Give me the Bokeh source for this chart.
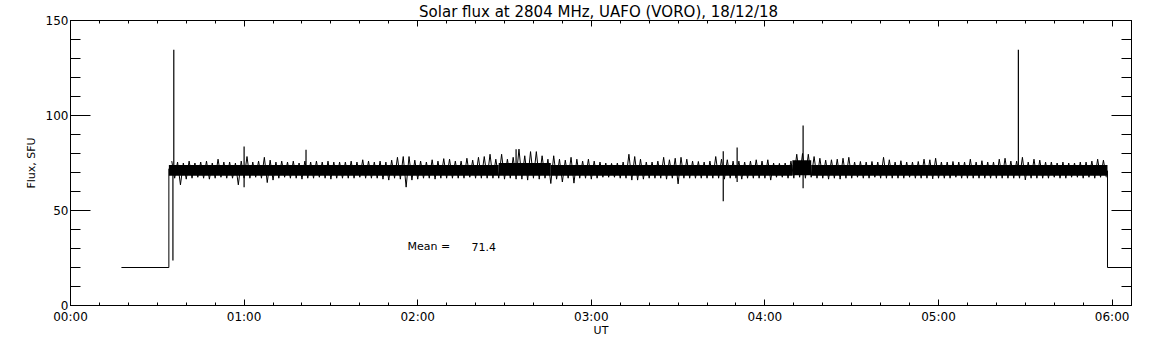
from bokeh.plotting import figure
from bokeh.models import Range1d, FixedTicker, LinearAxis, Label
from bokeh.embed import file_html
from bokeh.resources import INLINE

TITLE = "Solar flux at 2804 MHz, UAFO (VORO),  18/12/18"
X_LABEL = "UT"
Y_LABEL = "Flux, SFU"

# time axis in minutes after 00:00 UT
X_TICKS = [0, 60, 120, 180, 240, 300, 360]
X_TICK_LABELS = ["00:00", "01:00", "02:00", "03:00", "04:00", "05:00", "06:00"]
X_MINOR = list(range(0, 370, 10))
Y_TICKS = [0, 50, 100, 150]
Y_MINOR = list(range(0, 160, 10))

# quiet (off-sun) level before and after the observation
lead_t = [17.6, 34.0, 34.0]
lead_v = [20.0, 20.0, 72.0]
tail_t = [358.4, 358.4, 366.7]
tail_v = [71.0, 20.0, 20.0]

# flux record: local maxima (at odd minutes) and local minima (at even minutes), SFU
peak_t = list(range(35, 358, 2))
peak_v = [
    76.0, 75.5, 75.0, 76.0, 75.0, 75.5, 76.0, 75.0, 77.0, 75.5,
    75.5, 75.0, 76.0, 78.4, 75.5, 76.0, 78.0, 76.5, 75.5, 76.0,
    75.5, 76.0, 75.0, 76.0, 75.5, 76.0, 75.5, 76.0, 75.5, 75.5,
    75.5, 76.0, 75.5, 76.7, 76.0, 75.5, 76.0, 75.5, 76.5, 78.0,
    78.4, 78.4, 76.5, 76.0, 75.5, 76.7, 76.0, 77.3, 77.0, 76.0,
    76.0, 77.5, 76.5, 78.0, 78.4, 79.6, 77.0, 79.6, 77.0, 78.0,
    82.3, 78.8, 81.0, 81.0, 78.8, 77.0, 78.8, 77.0, 76.5, 78.0,
    77.0, 76.0, 77.0, 76.0, 75.5, 75.0, 74.8, 75.0, 75.5, 79.6,
    78.4, 77.0, 75.5, 75.5, 76.0, 78.0, 76.7, 77.5, 78.0, 77.0,
    76.0, 75.8, 75.5, 76.0, 78.4, 77.0, 76.7, 76.0, 76.0, 75.5,
    76.0, 76.7, 76.0, 76.7, 75.0, 74.8, 75.0, 76.0, 79.6, 80.0,
    79.6, 78.4, 77.5, 76.5, 76.7, 77.0, 77.5, 78.0, 75.5, 75.8,
    75.5, 75.8, 75.5, 78.0, 76.7, 75.5, 76.2, 75.5, 75.5, 75.8,
    77.0, 76.7, 77.5, 75.5, 75.5, 75.8, 75.5, 75.5, 77.0, 75.5,
    76.2, 75.5, 75.5, 77.0, 77.5, 76.0, 76.0, 78.0, 75.5, 77.0,
    76.5, 75.5, 75.5, 75.0, 75.5, 75.0, 75.0, 75.5, 75.5, 76.0,
    77.0, 76.5,
]
trough_t = list(range(36, 359, 2))
trough_v = [
    67.0, 63.5, 66.5, 67.0, 67.5, 67.0, 66.5, 67.0, 67.5, 67.0,
    67.0, 63.5, 67.0, 67.0, 67.5, 67.0, 64.7, 66.0, 67.0, 67.5,
    67.0, 67.0, 66.5, 67.0, 67.0, 67.5, 67.0, 66.5, 67.0, 67.0,
    67.0, 67.0, 67.5, 67.0, 67.0, 67.0, 66.5, 66.0, 67.0, 66.5,
    62.3, 66.0, 66.5, 67.0, 67.0, 66.5, 67.0, 67.0, 67.0, 67.0,
    67.0, 67.5, 67.0, 67.0, 67.0, 67.0, 67.0, 66.5, 67.0, 66.5,
    66.5, 66.0, 67.0, 66.5, 67.0, 64.2, 66.5, 65.0, 67.0, 64.4,
    67.0, 67.0, 66.5, 67.0, 67.5, 67.5, 67.5, 67.0, 67.0, 66.0,
    66.0, 66.5, 67.0, 67.0, 67.0, 66.5, 67.0, 64.0, 67.0, 67.0,
    67.0, 67.0, 67.0, 67.0, 67.0, 66.5, 67.0, 67.0, 66.5, 67.0,
    67.0, 67.0, 67.0, 66.0, 67.5, 67.5, 67.0, 67.0, 67.5, 67.0,
    67.5, 67.0, 67.0, 66.5, 67.0, 66.5, 67.0, 67.0, 67.5, 67.0,
    67.0, 67.5, 67.0, 67.0, 67.0, 67.0, 67.0, 67.5, 67.0, 67.0,
    67.0, 66.7, 67.0, 67.0, 67.0, 67.5, 67.0, 67.0, 67.0, 67.0,
    67.0, 67.0, 67.0, 67.0, 67.0, 67.0, 67.0, 66.1, 67.0, 67.0,
    67.0, 67.0, 67.5, 67.0, 67.0, 67.5, 67.5, 67.0, 67.5, 67.0,
    67.5, 67.5,
]

# dense core of the record
core_t0 = [34.0, 148.0, 166.0, 249.5, 256.0]
core_t1 = [148.0, 166.0, 249.5, 256.0, 358.4]
core_lo = [68.3, 68.3, 68.3, 68.5, 68.3]
core_hi = [74.0, 75.0, 74.0, 76.5, 74.0]

# isolated spikes
spike_t = [35.4, 35.7, 60.0, 81.4, 154.0, 225.6, 230.4, 253.2, 327.6]
spike_lo = [23.7, 71.0, 62.3, 70.0, 70.0, 54.9, 65.0, 61.7, 70.0]
spike_hi = [72.0, 134.6, 83.7, 82.0, 82.3, 81.2, 83.2, 94.7, 134.6]

MEAN = 71.4

FONT = "DejaVu Sans"

p = figure(
    frame_width=1061, frame_height=285,
    min_border_left=70, min_border_right=14, min_border_top=19, min_border_bottom=36,
    x_range=Range1d(0, 366.7), y_range=Range1d(0, 150),
    output_backend="svg", toolbar_location=None,
    title=TITLE, x_axis_label=X_LABEL, y_axis_label=Y_LABEL,
)
p.background_fill_color = "white"
p.border_fill_color = "white"
p.outline_line_color = "black"
p.grid.visible = False

p.title.align = "center"
p.title.text_font = FONT
p.title.text_font_size = "15px"
p.title.text_font_style = "normal"
p.title.text_color = "black"
p.title.standoff = 0
p.title.offset = 0

def style_x(ax, labels=True):
    ax.ticker = FixedTicker(ticks=X_TICKS, minor_ticks=X_MINOR)
    ax.major_tick_in = 6
    ax.major_tick_out = 0
    ax.minor_tick_in = 3
    ax.minor_tick_out = 0
    ax.axis_line_color = "black"
    ax.major_tick_line_color = "black"
    ax.minor_tick_line_color = "black"
    if labels:
        ax.major_label_overrides = {t: s for t, s in zip(X_TICKS, X_TICK_LABELS)}
        ax.major_label_text_font = FONT
        ax.major_label_text_font_size = "12px"
        ax.major_label_text_color = "black"
        ax.major_label_standoff = 4
        ax.axis_label_text_font = FONT
        ax.axis_label_text_font_size = "11px"
        ax.axis_label_text_font_style = "normal"
        ax.axis_label_text_color = "black"
        ax.axis_label_standoff = -3
    else:
        ax.major_label_overrides = {t: "" for t in X_TICKS}
        ax.major_label_standoff = 0

def style_y(ax, labels=True):
    ax.ticker = FixedTicker(ticks=Y_TICKS, minor_ticks=Y_MINOR)
    ax.major_tick_in = 20
    ax.major_tick_out = 0
    ax.minor_tick_in = 10
    ax.minor_tick_out = 0
    ax.axis_line_color = "black"
    ax.major_tick_line_color = "black"
    ax.minor_tick_line_color = "black"
    if labels:
        ax.major_label_text_font = FONT
        ax.major_label_text_font_size = "12px"
        ax.major_label_text_color = "black"
        ax.major_label_standoff = 2
        ax.axis_label_text_font = FONT
        ax.axis_label_text_font_size = "11px"
        ax.axis_label_text_font_style = "normal"
        ax.axis_label_text_color = "black"
        ax.axis_label_standoff = 5
    else:
        ax.major_label_overrides = {t: "" for t in Y_TICKS}
        ax.major_label_standoff = 0

style_x(p.xaxis[0])
style_y(p.yaxis[0])
top_ax = LinearAxis()
style_x(top_ax, labels=False)
p.add_layout(top_ax, "above")
right_ax = LinearAxis()
style_y(right_ax, labels=False)
p.add_layout(right_ax, "right")

# merged record: peaks and troughs in time order
rec_t, rec_v = [], []
for a, b, c, d in zip(peak_t, peak_v, trough_t, trough_v):
    rec_t += [a, c]
    rec_v += [b, d]

p.line(lead_t, lead_v, line_color="black", line_width=1)
p.line(tail_t, tail_v, line_color="black", line_width=1)
p.quad(left=core_t0, right=core_t1, bottom=core_lo, top=core_hi,
       fill_color="black", line_color=None)
p.line(rec_t, rec_v, line_color="black", line_width=1)
p.segment(x0=spike_t, y0=spike_lo, x1=spike_t, y1=spike_hi, line_color="black", line_width=1.2)

p.add_layout(Label(x=116.5, y=31.0, text="Mean =", text_font=FONT, text_font_size="11px",
                   text_color="black", text_baseline="alphabetic"))
p.add_layout(Label(x=138.6, y=31.0, text=f"{MEAN:.1f}", text_font=FONT, text_font_size="11px",
                   text_color="black", text_baseline="alphabetic"))

open("out.html", "w").write(file_html(p, INLINE))
